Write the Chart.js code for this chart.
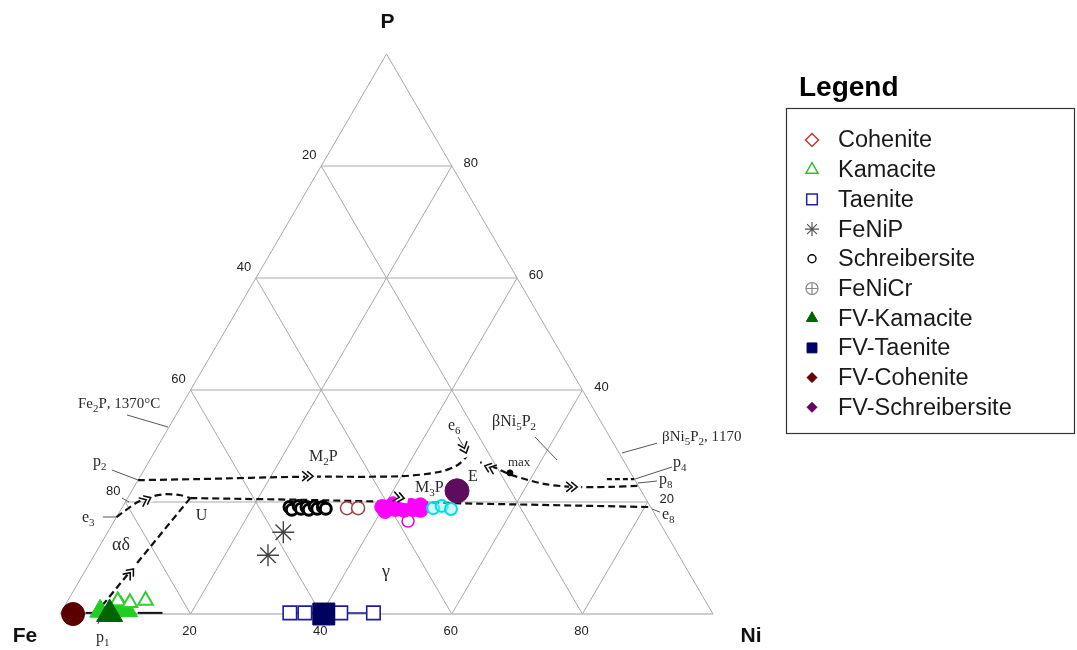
<!DOCTYPE html>
<html>
<head>
<meta charset="utf-8">
<script src="https://cdn.jsdelivr.net/npm/chart.js"></script>
<style>
  html, body { margin: 0; padding: 0; background: #ffffff; }
  #wrap { width: 1077px; height: 650px; position: relative; }
</style>
</head>
<body>
<div id="wrap"><canvas id="c" width="1077" height="650"></canvas></div>
<script>
// ---------- DATA (ternary compositions, wt%: [Ni, P]; Fe = 100 - Ni - P) ----------
const gridLevels = [20, 40, 60, 80];
const bottomTickLabels = ['20', '40', '60', '80'];   // Ni
const leftTickLabels = ['80', '60', '40', '20'];     // along left edge, P = 20..80 lines
const rightTickLabels = ['20', '40', '60', '80'];    // along right edge, P = 20..80 lines
const cornerLabels = ['Fe', 'Ni', 'P'];

const fvCohenite = [[2.0, 0.0]];
const fvKamacite = [[7.6, 0.0]];
const kamaciteFilled = [[5.9, 0.5], [8.7, 1.2], [10.0, 0.6]];
const kamacite = [[7.7, 2.3], [9.7, 2.0], [11.9, 2.4]];
const taenite = [[35.1, 0.2], [37.4, 0.2], [42.9, 0.2], [47.9, 0.2]];
const fvTaenite = [[40.4, 0.0]];
const feNiP = [[26.9, 14.6], [26.6, 10.5]];
const schreibersite = [[25.6, 19.1], [26.2, 18.6], [26.9, 19.3], [27.5, 18.8], [28.2, 19.1], [28.8, 18.6], [29.4, 19.2], [30.0, 18.8], [30.7, 19.1], [31.3, 18.8]];
const cohenite = [[34.5, 18.9], [36.2, 18.9]];
const magentaPts = [[39.8, 19.1], [40.6, 18.4], [41.2, 19.6], [42.0, 18.75], [42.6, 19.5], [43.4, 18.6], [44.1, 19.3], [44.8, 18.75], [45.5, 19.4], [45.9, 18.6]];
const magentaOpen = [[45.0, 16.6]];
const cyanPts = [[47.7, 18.9], [48.8, 19.3], [50.5, 18.75]];
const fvSchreibersite = [[49.8, 22.0]];
const maxPoint = [[56.3, 25.2]];

// univariant / liquidus curves (dashed)
const curveM2P = [[0, 23.9], [9.4, 24.1], [24.5, 24.5], [39.8, 24.6], [45.5, 25.4], [47.6, 26.6], [48.3, 28.4]];
const curveE_p8 = [[50.8, 27.1], [53.6, 26.1], [56.8, 24.8], [62.7, 23.2], [67.5, 22.7], [72.9, 22.7], [77.1, 22.9]];
const curveP4 = [[71.7, 24.1], [75.9, 24.1]];
const curveU_e8 = [[9.6, 20.7], [26.6, 20.4], [49.8, 19.8], [80.9, 19.1]];
const curveE3_U = [[0, 17.3], [1.8, 19.9], [3.6, 21.0], [5.6, 21.4], [7.9, 21.2], [9.6, 20.7]];
const curveP1_U = [[5.4, 0], [9.6, 20.7]];
const barKamacite1 = [[3.8, 0.2], [5.4, 0.2]];
const barKamacite2 = [[11.8, 0.2], [15.6, 0.2]];
const barTaenite = [[34.1, 0.2], [49.0, 0.2]];

// direction arrows on curves [Ni, P, angle deg]
const arrows = [[26.3, 24.6, 0], [3.4, 20.7, -25], [7.2, 7.9, -50], [47.7, 28.9, 70], [52.0, 26.4, 200], [67.7, 22.7, 0], [42.2, 20.7, 10]];

const legendNames = ['Cohenite', 'Kamacite', 'Taenite', 'FeNiP', 'Schreibersite', 'FeNiCr', 'FV-Kamacite', 'FV-Taenite', 'FV-Cohenite', 'FV-Schreibersite'];

// ---------- helpers ----------
function tern(ni, p) { return { x: ni + p / 2, y: p }; }
function toXY(arr) { return arr.map(a => tern(a[0], a[1])); }

const SANS = "'Liberation Sans', Arial, sans-serif";
const SERIF = "'Liberation Serif', 'Times New Roman', serif";

const datasets = [];
function addLine(data, color, width, dash, tension) {
  datasets.push({ data, showLine: true, borderColor: color, borderWidth: width, borderDash: dash || [],
    pointRadius: 0, tension: tension || 0, fill: false, clip: false, borderCapStyle: 'butt' });
}
function addPts(arr, style, radius, fill, stroke, bw) {
  datasets.push({ data: toXY(arr), showLine: false, pointStyle: style, pointRadius: radius,
    pointBackgroundColor: fill, pointBorderColor: stroke, pointBorderWidth: bw, clip: false });
}

// grid
gridLevels.forEach(c => {
  addLine([tern(0, c), tern(100 - c, c)], '#d4d4d4', 2);       // P = c
});
gridLevels.forEach(c => {
  addLine([tern(c, 0), tern(c, 100 - c)], '#a8a8a8', 1);       // Ni = c
  addLine([tern(100 - c, 0), tern(0, 100 - c)], '#a8a8a8', 1); // Fe = c
});
addLine([tern(0, 0), tern(100, 0)], '#bdbdbd', 1.6);
addLine([tern(0, 0), tern(0, 100)], '#a8a8a8', 1);
addLine([tern(100, 0), tern(0, 100)], '#a8a8a8', 1);

// leader lines (chart units)
const leaders = [
  [[10.26, 35.54], [16.54, 33.39]], [[7.96, 25.71], [11.94, 23.93]], [[6.58, 17.32], [8.58, 17.32]],
  [[9.49, 20.71], [10.57, 20.0]], [[5.82, -1.79], [6.28, -0.36]], [[60.95, 31.6], [62.0, 29.6]],
  [[72.74, 31.6], [76.11, 27.5]], [[91.42, 30.5], [86.06, 28.75]], [[93.72, 26.25], [88.06, 24.1]],
  [[91.42, 23.75], [88.51, 23.39]], [[90.66, 18.75], [91.88, 18.2]]
];
leaders.forEach(l => addLine(l.map(p => ({ x: p[0], y: p[1] })), '#555555', 1));

// dashed curves
const DASH = [7, 4];
addLine(toXY(curveM2P), '#111', 2.2, DASH, 0.3);
addLine(toXY(curveE_p8), '#111', 2.2, DASH, 0.3);
addLine(toXY(curveP4), '#111', 2.2, [5, 3], 0);
addLine(toXY(curveU_e8), '#111', 2.2, DASH, 0);
addLine(toXY(curveE3_U), '#111', 2.2, DASH, 0.25);
addLine(toXY(curveP1_U), '#111', 2.2, DASH, 0);
addLine(toXY(barKamacite1), '#111', 2, [], 0);
addLine(toXY(barKamacite2), '#111', 2, [], 0);
addLine(toXY(barTaenite), '#1a1a8a', 1.5, [], 0);

// points
addPts(maxPoint, 'circle', 3, '#000', '#000', 1);
addPts(feNiP, 'star', 11, 'rgba(0,0,0,0)', '#444', 1.4);
addPts(schreibersite, 'circle', 5.5, '#ffffff', '#000000', 3);
addPts(cohenite, 'circle', 6.5, '#ffffff', '#a03c3c', 1.5);
addPts(magentaOpen, 'circle', 6, 'rgba(255,255,255,0.8)', '#e000e0', 1.5);
addPts(magentaPts, 'circle', 7.5, '#ff00ff', '#ff00ff', 1);
addPts(cyanPts, 'circle', 6, 'rgba(150,245,250,0.5)', '#00dde8', 2);
addPts(fvSchreibersite, 'circle', 12, '#5e0c5e', '#5e0c5e', 1);
addPts(taenite, 'rect', 9.5, '#ffffff', '#1c1ca8', 1.6);
addPts(fvTaenite, 'rect', 15.5, '#00005e', '#00005e', 1);
addPts(kamaciteFilled, 'triangle', 12, '#22cc22', '#22cc22', 1);
addPts(kamacite, 'triangle', 8.5, '#ffffff', '#33cc33', 2);
addPts(fvKamacite, 'triangle', 15, '#006400', '#006400', 1);
addPts(fvCohenite, 'circle', 11.5, '#5a0000', '#5a0000', 1);

// draw order: later datasets on top
datasets.forEach((d, i) => { d.order = datasets.length - i; });

// ---------- labels (chart units) ----------
const labels = [
  { t: 'Fe_2P, 1370°C', x: 2.76, y: 37.5, s: 15 },
  { t: 'p_2', x: 5.05, y: 27.1, s: 16 },
  { t: 'e_3', x: 3.37, y: 17.1, s: 16 },
  { t: 'U', x: 20.8, y: 17.5, s: 16 },
  { t: 'αδ', x: 7.96, y: 12.3, s: 18 },
  { t: 'p_1', x: 5.51, y: -4.3, s: 16 },
  { t: 'M_2P', x: 38.13, y: 28.0, s: 16 },
  { t: 'M_3P', x: 54.36, y: 22.5, s: 16 },
  { t: 'E', x: 62.48, y: 24.5, s: 16 },
  { t: 'e_6', x: 59.42, y: 33.6, s: 16 },
  { t: 'max', x: 68.6, y: 27.1, s: 13 },
  { t: 'βNi_5P_2', x: 66.16, y: 34.3, s: 16 },
  { t: 'βNi_5P_2, 1170', x: 92.19, y: 31.6, s: 15 },
  { t: 'p_4', x: 93.87, y: 27.0, s: 16 },
  { t: 'p_8', x: 91.73, y: 23.9, s: 16 },
  { t: 'e_8', x: 92.19, y: 17.7, s: 16 },
  { t: 'γ', x: 49.92, y: 7.5, s: 18, center: true }
];

function drawRich(ctx, str, x, y, size, family, align, color) {
  const parts = [];
  for (let i = 0; i < str.length; i++) {
    if (str[i] === '_') { parts.push({ t: str[i + 1], sub: true }); i++; }
    else parts.push({ t: str[i], sub: false });
  }
  const subSize = Math.round(size * 0.7);
  let w = 0;
  parts.forEach(p => { ctx.font = (p.sub ? subSize : size) + 'px ' + family; p.w = ctx.measureText(p.t).width; w += p.w; });
  let cx = align === 'center' ? x - w / 2 : (align === 'right' ? x - w : x);
  ctx.fillStyle = color; ctx.textBaseline = 'middle'; ctx.textAlign = 'left';
  parts.forEach(p => {
    ctx.font = (p.sub ? subSize : size) + 'px ' + family;
    ctx.fillText(p.t, cx, p.sub ? y + size * 0.32 : y);
    cx += p.w;
  });
}

function drawMarker(ctx, style, r, fill, stroke, bw, x, y) {
  ctx.save();
  ctx.fillStyle = fill; ctx.strokeStyle = stroke; ctx.lineWidth = bw;
  if (Chart.helpers && Chart.helpers.drawPoint) {
    Chart.helpers.drawPoint(ctx, { pointStyle: style, radius: r, borderWidth: bw, rotation: 0 }, x, y);
  }
  ctx.restore();
}

const overlay = {
  id: 'overlay',
  afterDatasetsDraw(chart) {
    const ctx = chart.ctx;
    const X = v => chart.scales.x.getPixelForValue(v);
    const Y = v => chart.scales.y.getPixelForValue(v);
    // arrows
    ctx.save();
    ctx.strokeStyle = '#111'; ctx.lineWidth = 1.6; ctx.lineCap = 'round'; ctx.lineJoin = 'miter';
    arrows.forEach(a => {
      const p = tern(a[0], a[1]);
      ctx.save();
      ctx.translate(X(p.x), Y(p.y));
      ctx.rotate(a[2] * Math.PI / 180);
      ctx.fillStyle = '#fff';
      ctx.fillRect(-7, -4.5, 12, 9);
      ctx.beginPath();
      [0, -5].forEach(o => { ctx.moveTo(o - 4.5, -4.5); ctx.lineTo(o + 1, 0); ctx.lineTo(o - 4.5, 4.5); });
      ctx.stroke();
      ctx.restore();
    });
    ctx.restore();
  },
  afterDraw(chart) {
    const ctx = chart.ctx;
    const X = v => chart.scales.x.getPixelForValue(v);
    const Y = v => chart.scales.y.getPixelForValue(v);
    ctx.save();
    // tick labels
    ctx.font = '13px ' + SANS; ctx.fillStyle = '#222'; ctx.textAlign = 'center'; ctx.textBaseline = 'middle';
    gridLevels.forEach((c, i) => {
      const b = tern(c, 0);
      ctx.fillText(bottomTickLabels[i], X(b.x) - 1, Y(b.y) + 17);
      const l = tern(0, c);
      ctx.fillText(leftTickLabels[i], X(l.x) - 12, Y(l.y) - 11);
      const r = tern(100 - c, c);
      ctx.fillText(rightTickLabels[i], X(r.x) + 19, Y(r.y) - 3);
    });
    // corner labels
    ctx.font = 'bold 21px ' + SANS; ctx.fillStyle = '#111';
    const fe = tern(0, 0), ni = tern(100, 0), pp = tern(0, 100);
    ctx.fillText(cornerLabels[0], X(fe.x) - 35, Y(fe.y) + 22);
    ctx.fillText(cornerLabels[1], X(ni.x) + 38, Y(ni.y) + 22);
    ctx.fillText(cornerLabels[2], X(pp.x) + 1, Y(pp.y) - 32);
    // phase labels
    labels.forEach(L => drawRich(ctx, L.t, X(L.x), Y(L.y), L.s, SERIF, L.center ? 'center' : 'left', '#2a2a2a'));

    // legend
    ctx.font = 'bold 28px ' + SANS; ctx.fillStyle = '#000'; ctx.textAlign = 'left'; ctx.textBaseline = 'middle';
    ctx.fillText('Legend', 799, 88);
    ctx.strokeStyle = '#333'; ctx.lineWidth = 1.2;
    ctx.strokeRect(786.5, 108.5, 288, 325);
    const styles = [
      ['rectRot', 6.5, '#ffffff', '#cc3333', 1.5],
      ['triangle', 7, '#ffffff', '#33bb33', 1.5],
      ['rect', 7.5, '#ffffff', '#2222aa', 1.5],
      ['star', 7, 'rgba(0,0,0,0)', '#555', 1.2],
      ['circle', 4, '#ffffff', '#000000', 1.4],
      ['circle', 6, '#ffffff', '#888888', 1.2],
      ['triangle', 6.5, '#006400', '#006400', 1],
      ['rect', 7, '#000066', '#000066', 1],
      ['rectRot', 5, '#660000', '#660000', 1],
      ['rectRot', 5, '#660066', '#660066', 1]
    ];
    legendNames.forEach((n, i) => {
      const y = 140 + i * 29.7;
      const s = styles[i];
      drawMarker(ctx, s[0], s[1], s[2], s[3], s[4], 812, y);
      if (n === 'FeNiCr') drawMarker(ctx, 'cross', 6, '#888', '#888888', 1.2, 812, y);
      ctx.font = '23.5px ' + SANS; ctx.fillStyle = '#1a1a1a'; ctx.textAlign = 'left'; ctx.textBaseline = 'middle';
      ctx.fillText(n, 838, y + 1);
    });
    ctx.restore();
  }
};

new Chart(document.getElementById('c').getContext('2d'), {
  type: 'scatter',
  data: { datasets },
  options: {
    responsive: false,
    animation: false,
    devicePixelRatio: 1,
    events: [],
    layout: { padding: { left: 60, right: 364, top: 54, bottom: 36 } },
    scales: {
      x: { type: 'linear', min: 0, max: 100, display: false },
      y: { type: 'linear', min: 0, max: 100, display: false }
    },
    plugins: { legend: { display: false }, tooltip: { enabled: false } }
  },
  plugins: [overlay]
});
</script>
</body>
</html>
